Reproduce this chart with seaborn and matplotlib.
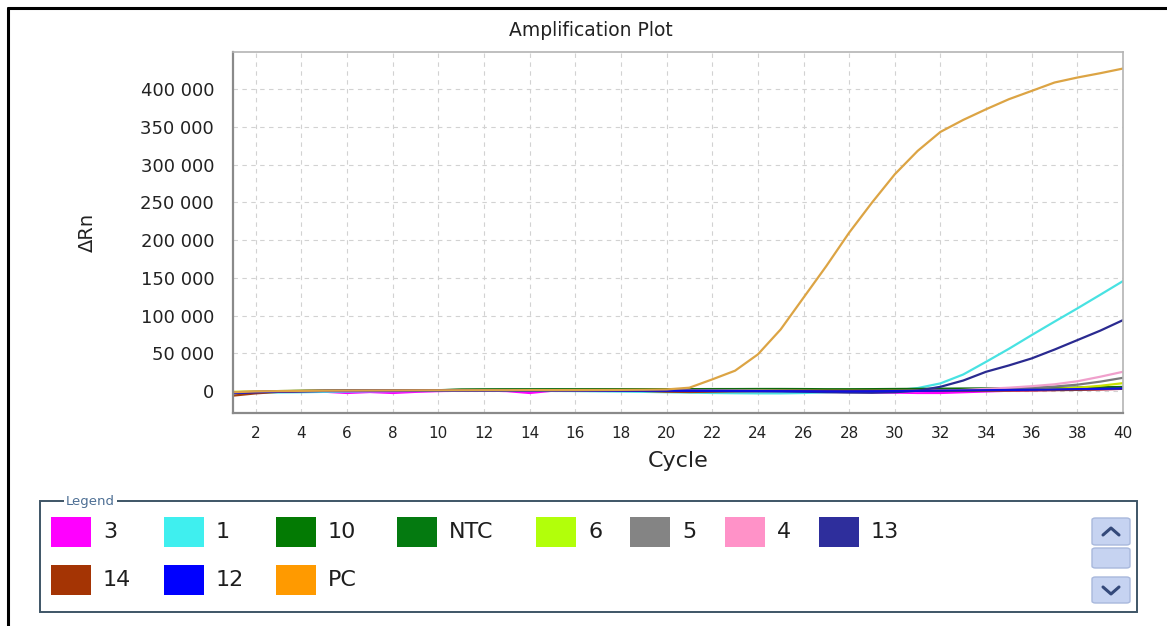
import numpy as np
import pandas as pd
import matplotlib
matplotlib.use("Agg")
import matplotlib.pyplot as plt
import seaborn as sns
from matplotlib.patches import Rectangle, FancyBboxPatch
from matplotlib.lines import Line2D
from matplotlib.ticker import FuncFormatter, MultipleLocator

# cycles and delta Rn values
cycles = list(range(1, 41))

s3 = [-2000, -1000, -500, -300, -800, -2500, -1200, -2500, -1000, 0,
      500, 800, 0, -2500, 500, 1000, 1000, 1000, 800, 500,
      300, 0, 0, 200, 300, 0, -500, -800, -1500, -2000,
      -2500, -2500, -1500, -500, 500, 1000, 1500, 2000, 2500, 3000]
s1 = [-3000, -2000, -1800, -1500, -1000, -500, -200, 0, 200, 300,
      500, 500, 400, 300, 200, 0, -300, -600, -1000, -1500,
      -2000, -2500, -2800, -3000, -3000, -2500, -1500, -500, 0, 1000,
      4000, 10200, 22000, 38800, 56000, 74200, 92000, 109500, 127500, 145700]
s10 = [-2000, -1000, -200, 200, 400, 600, 700, 800, 900, 1200,
       2000, 2200, 2300, 2300, 2400, 2400, 2500, 2500, 2500, 2600,
       2600, 2700, 2700, 2800, 2800, 2700, 2500, 2500, 2600, 2800,
       3000, 3200, 3400, 3600, 3800, 4000, 4300, 4600, 5000, 5500]
ntc = [-1500, -800, 0, 300, 500, 600, 700, 800, 900, 1100,
       1800, 2000, 2100, 2100, 2100, 2200, 2200, 2300, 2300, 2300,
       2200, 2000, 1800, 1500, 1200, 500, -500, -1000, -800, -200,
       800, 1500, 2000, 2300, 2500, 2700, 2900, 3200, 3500, 4000]
s6 = [-1000, -500, 0, 200, 300, 400, 400, 500, 500, 600,
      800, 900, 1000, 1000, 1000, 1000, 1100, 1100, 1100, 1000,
      900, 800, 700, 600, 500, 400, 300, 300, 300, 400,
      500, 600, 800, 1000, 1300, 2000, 3000, 4500, 7000, 10500]
s5 = [-2500, -1500, -600, 0, 300, 400, 500, 500, 600, 700,
      900, 1000, 1100, 1100, 1200, 1200, 1200, 1200, 1100, 1000,
      900, 800, 700, 600, 500, 400, 300, 300, 400, 500,
      700, 900, 1200, 2000, 3000, 4500, 6000, 8500, 12500, 17600]
s4 = [-1500, -800, -300, 0, 200, 300, 400, 500, 500, 600,
      800, 900, 1000, 1000, 1000, 1000, 1000, 1000, 900, 800,
      700, 600, 500, 400, 300, 200, 0, -300, -500, -300,
      0, 500, 1500, 3000, 4500, 6500, 9000, 13000, 19000, 25600]
s13 = [-2000, -1200, -500, 0, 300, 400, 500, 500, 600, 700,
       900, 1000, 1000, 1100, 1100, 1100, 1000, 1000, 900, 800,
       600, 400, 200, 0, -300, -800, -1500, -2000, -2200, -1500,
       500, 5700, 14000, 25600, 34000, 43300, 55000, 67500, 80000, 94000]
s14 = [-6000, -3000, -1000, 0, 300, 400, 500, 600, 700, 800,
       900, 1000, 1000, 1100, 1100, 1100, 1000, 800, 200, -800,
       -1200, -800, -300, 0, 200, 300, 300, 300, 300, 300,
       300, 300, 400, 500, 700, 900, 1200, 1600, 2200, 3000]
s12 = [-2500, -1500, -700, -200, 100, 200, 300, 400, 400, 500,
       600, 700, 700, 800, 800, 800, 700, 600, 500, 400,
       300, 200, 100, 0, -100, -200, -300, -300, -200, 0,
       300, 600, 900, 1200, 1500, 1800, 2200, 2600, 3000, 3500]
pc = [-1500, -500, 0, 300, 500, 600, 700, 800, 900, 1000,
      1100, 1200, 1200, 1300, 1300, 1400, 1500, 1600, 1800, 2200,
      4500, 15500, 27000, 48600, 81700, 123700, 165600, 209800, 249600, 287100,
      318000, 343200, 359100, 373200, 386500, 397500, 408600, 415200, 420900, 427100]

labels = ["3", "1", "10", "NTC", "6", "5", "4", "13", "14", "12", "PC"]
series = [s3, s1, s10, ntc, s6, s5, s4, s13, s14, s12, pc]
swatch_colors = ["#FF00FF", "#3FEFEF", "#037A03", "#047A10", "#B2FF0A", "#848484",
                 "#FF92C8", "#2E2E9C", "#A43404", "#0000FF", "#FF9A00"]
line_colors = ["#FF00FF", "#48E2E2", "#0A6A0A", "#146E14", "#C8E000", "#7A7A7A",
               "#F0A0CC", "#2A2A90", "#A04010", "#1010E0", "#DCA444"]

rows = []
for lab, vals in zip(labels, series):
    for c, v in zip(cycles, vals):
        rows.append({"Cycle": c, "dRn": v, "Sample": lab})
df = pd.DataFrame(rows)

W, H = 1167, 626


def fx(px):
    return px / W


def fy(py):
    return 1 - py / H


sns.set_style("white")
plt.rcParams["font.family"] = ["DejaVu Sans"]

fig = plt.figure(figsize=(W / 100, H / 100), dpi=100)
ax = fig.add_axes([fx(233), fy(413), fx(1123) - fx(233), fy(52) - fy(413)])

sns.lineplot(data=df, x="Cycle", y="dRn", hue="Sample", hue_order=labels,
             palette=dict(zip(labels, line_colors)), legend=False,
             estimator=None, linewidth=1.6, ax=ax)

ax.set_xlim(1, 40)
ax.set_ylim(-29000, 449000)
ax.xaxis.set_major_locator(MultipleLocator(2))
ax.set_xticks(range(2, 41, 2))
ax.set_yticks(range(0, 400001, 50000))
ax.yaxis.set_major_formatter(FuncFormatter(lambda v, p: f"{int(v):,}".replace(",", " ")))
ax.grid(True, linestyle=(0, (4, 4)), color="#D2D2D2", linewidth=0.8)
ax.set_axisbelow(True)

for side in ["left", "bottom"]:
    ax.spines[side].set_color("#8A8A8A")
    ax.spines[side].set_linewidth(1.6)
for side in ["top", "right"]:
    ax.spines[side].set_color("#B4B4B4")
    ax.spines[side].set_linewidth(1.2)

ax.tick_params(axis="y", direction="out", length=4.5, width=1.2, color="#8A8A8A",
               pad=9, labelsize=13, labelcolor="#222222")
ax.tick_params(axis="x", direction="out", length=4.5, width=1.2, color="#8A8A8A",
               pad=5, labelsize=11, labelcolor="#222222")

ax.set_xlabel("Cycle", fontsize=16, color="#222222")
ax.xaxis.set_label_coords(0.5, -0.105)
ax.set_ylabel("\u0394Rn", fontsize=14, color="#222222")
ax.yaxis.set_label_coords(-0.153, 0.5)

fig.text(fx(591), fy(31), "Amplification Plot", ha="center", va="center",
         fontsize=13.5, color="#222222")

# outer frame (left and top edges)
fig.add_artist(Line2D([fx(8), fx(8)], [0, fy(8)], color="black", lw=2.2))
fig.add_artist(Line2D([fx(8), 1], [fy(8), fy(8)], color="black", lw=2.2))

# legend box
fig.add_artist(Rectangle((fx(40), fy(612)), fx(1137) - fx(40), fy(501) - fy(612),
                         facecolor="white", edgecolor="#3E5566", lw=1.4))
fig.text(fx(66), fy(501), "Legend", ha="left", va="center", fontsize=9.5,
         color="#4D6F94", bbox=dict(facecolor="white", edgecolor="none", pad=1.5))

swatch_x = [51, 164, 276, 397, 536, 630, 725, 819, 51, 164, 276]
swatch_y = [517, 517, 517, 517, 517, 517, 517, 517, 565, 565, 565]
for lab, col, sx, sy in zip(labels, swatch_colors, swatch_x, swatch_y):
    fig.add_artist(Rectangle((fx(sx), fy(sy + 30)), fx(40), 30 / H,
                             facecolor=col, edgecolor="none"))
    fig.text(fx(sx + 52), fy(sy + 15), lab, ha="left", va="center",
             fontsize=16, color="#1E1E1E")

# scroll buttons
for top, bot in [(518, 545), (548, 568), (577, 603)]:
    fig.add_artist(FancyBboxPatch((fx(1092), fy(bot)), fx(38), fy(top) - fy(bot),
                                  boxstyle="round,pad=0,rounding_size=0.003",
                                  facecolor="#C6D3F1", edgecolor="#A8B8DC", lw=1.0))
fig.add_artist(Line2D([fx(1103), fx(1111), fx(1119)], [fy(535), fy(528), fy(535)],
                      color="#34497A", lw=2.2))
fig.add_artist(Line2D([fx(1103), fx(1111), fx(1119)], [fy(587), fy(594), fy(587)],
                      color="#34497A", lw=2.2))

fig.savefig("out.png", dpi=100)
